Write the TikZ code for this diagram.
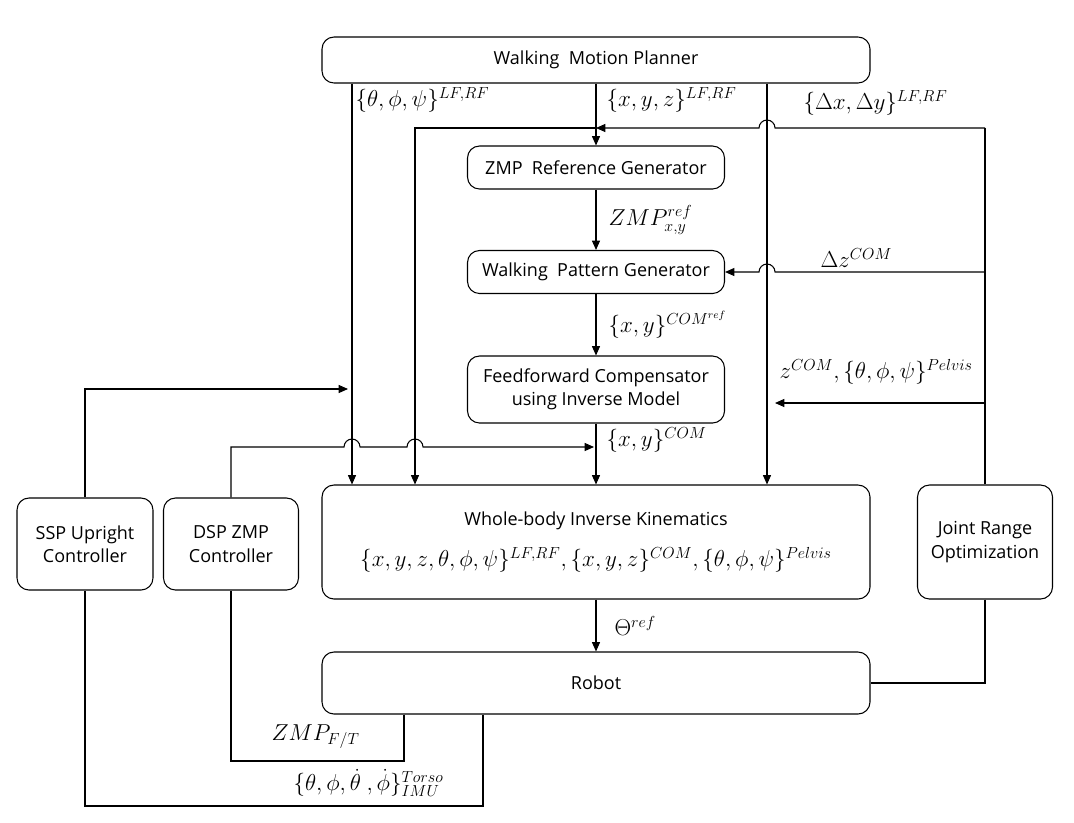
\documentclass[tikz,border=0pt]{standalone}
\usepackage{amsmath}
\usepackage{fontspec}
\setmainfont{Open Sans}
\usetikzlibrary{arrows.meta,calc}
\begin{document}
\begin{tikzpicture}[x=0.75pt,y=-0.75pt,line width=0.8pt,
  box/.style={draw, rounded corners=9pt, align=center, inner sep=0pt, font=\fontsize{13.5}{17.5}\selectfont},
  lbl/.style={anchor=west, inner sep=0pt, font=\fontsize{16.5}{19}\selectfont},
  arr/.style={-{Triangle[length=7pt,width=6pt]}}]
\useasboundingbox (0,0) rectangle (1074,822);
% boxes
\node[box, minimum width=411pt, minimum height=34.5pt] (wmp) at (596,60) {Walking\ \ Motion Planner};
\node[box, minimum width=192.75pt, minimum height=32.25pt] (zrg) at (596,167.5) {ZMP\ \ Reference Generator};
\node[box, minimum width=192.75pt, minimum height=32.25pt] (wpg) at (596,272) {Walking\ \ Pattern Generator};
\node[box, minimum width=192.75pt, minimum height=50.25pt] (ffc) at (596,389.5) {Feedforward Compensator\\using Inverse Model};
\node[box, minimum width=411pt, minimum height=85.5pt] (wbik) at (596,542) {Whole-body Inverse Kinematics\\[12pt]{\fontsize{16.5}{19}\selectfont $\{x,y,z,\theta,\phi,\psi\}^{LF,RF},\{x,y,z\}^{COM},\{\theta,\phi,\psi\}^{Pelvis}$}};
\node[box, minimum width=411pt, minimum height=46.5pt] (robot) at (596,683) {Robot};
\node[box, minimum width=102pt, minimum height=69pt] (ssp) at (85,544) {SSP Upright\\Controller};
\node[box, minimum width=101.25pt, minimum height=69pt] (dsp) at (231,544) {DSP ZMP\\Controller};
\node[box, minimum width=101.25pt, minimum height=85.5pt] (jro) at (985,542) {Joint Range\\Optimization};
% helper coordinates
\coordinate (xA) at (352,0);
\coordinate (xB) at (415,0);
\coordinate (xC) at (767,0);
\coordinate (xD) at (404,0);
\coordinate (xE) at (483,0);
\coordinate (j1) at (596,128);
\coordinate (r1) at (985,128);
\coordinate (r2) at (985,272);
\coordinate (r3) at (985,403);
\coordinate (e3) at (775,403);
\coordinate (h1) at (0,447);
\coordinate (h2) at (0,389);
\coordinate (h3) at (0,761);
\coordinate (h4) at (0,806);
\coordinate (t1) at (594,447);
% planner outputs
\draw[arr] (wmp.south -| xA) -- (wbik.north -| xA);
\draw[arr] (wmp.south) -- (zrg.north);
\draw[arr] (wmp.south -| xC) -- (wbik.north -| xC);
\draw[arr] (j1) -| (wbik.north -| xB);
% joint range feedback
\draw (jro.north) -- (r1);
\draw[arr] (r1) -- ($(xC|-r1)+(8,0)$) arc (0:180:6pt) -- (j1);
\draw[arr] (r2) -- ($(xC|-r2)+(8,0)$) arc (0:180:6pt) -- (wpg.east);
\draw[arr] (r3) -- (e3);
\draw (jro.south) |- (robot.east);
% chain
\draw[arr] (zrg) -- (wpg);
\draw[arr] (wpg) -- (ffc);
\draw[arr] (ffc) -- (wbik);
\draw[arr] (wbik) -- (robot);
% controllers
\draw[arr] (dsp.north) |- ($(xA|-h1)-(8,0)$) arc (180:0:6pt) -- ($(xB|-h1)-(8,0)$) arc (180:0:6pt) -- (t1);
\draw[arr] (ssp.north) |- ($(xA|-h2)-(4,0)$);
\draw (robot.south -| xD) -- (xD|-h3) -- (dsp.south |- h3) -- (dsp.south);
\draw (robot.south -| xE) -- (xE|-h4) -- (ssp.south |- h4) -- (ssp.south);
% labels
\node[lbl] (l1) at (355,100) {$\{\theta,\phi,\psi\}^{LF,RF}$};
\node[lbl] (l2) at (606,100) {$\{x,y,z\}^{LF,RF}$};
\node[lbl] (l3) at (803,103) {$\{\Delta x,\Delta y\}^{LF,RF}$};
\node[lbl] (l4) at (608,220) {$ZMP^{ref}_{x,y}$};
\node[lbl] (l5) at (820,258) {$\Delta z^{COM}$};
\node[lbl] (l6) at (608,325) {$\{x,y\}^{COM^{ref}}$};
\node[lbl] (l7) at (779,372) {$z^{COM},\{\theta,\phi,\psi\}^{Pelvis}$};
\node[lbl] (l8) at (606,440) {$\{x,y\}^{COM}$};
\node[lbl] (l9) at (614,626) {$\Theta^{ref}$};
\node[lbl] (l10) at (271,737) {$ZMP_{F/T}$};
\node[lbl] (l11) at (293,783) {$\{\theta,\phi,\dot\theta\ ,\dot\phi\}^{Torso}_{IMU}$};
\end{tikzpicture}
\end{document}
